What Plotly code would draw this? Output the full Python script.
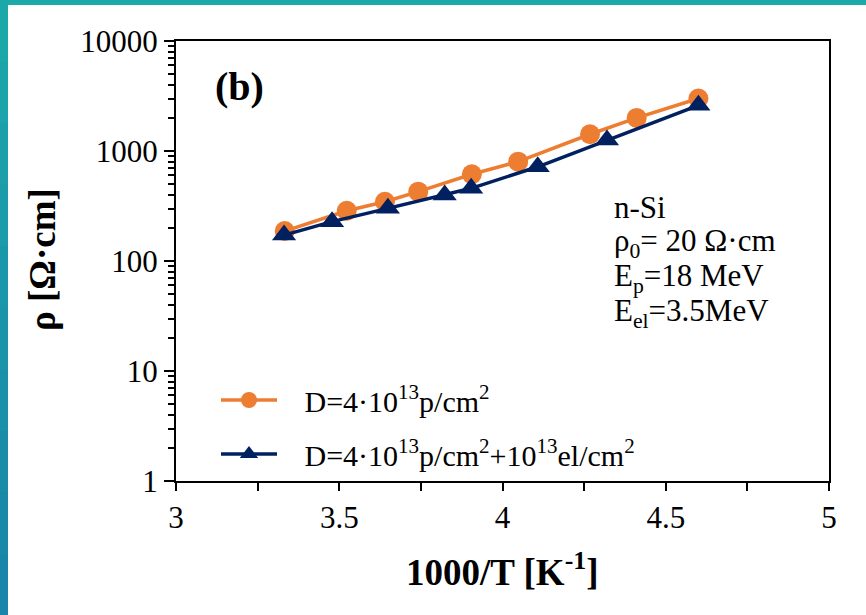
import plotly.graph_objects as go

# ---- data ----
x_p = [3.333, 3.523, 3.640, 3.742, 3.906, 4.048, 4.268, 4.411, 4.600]
rho_p = [187, 286, 346, 427, 614, 800, 1420, 2000, 3000]
x_pe = [3.331, 3.478, 3.649, 3.823, 3.904, 4.108, 4.320, 4.600]
rho_pe = [172, 228, 301, 398, 458, 719, 1260, 2600]

name_p = "D=4·10<sup>13</sup>p/cm<sup>2</sup>"
name_pe = "D=4·10<sup>13</sup>p/cm<sup>2</sup>+10<sup>13</sup>el/cm<sup>2</sup>"

x_ticks = [3, 3.5, 4, 4.5, 5]
x_ticklabels = ["3", "3.5", "4", "4.5", "5"]
y_ticks = [1, 10, 100, 1000, 10000]
y_ticklabels = ["1", "10", "100", "1000", "10000"]

info_lines = ["n-Si", "ρ<sub>0</sub>= 20 Ω·cm", "E<sub>p</sub>=18 MeV", "E<sub>el</sub>=3.5MeV"]

ORANGE = "#ED7D31"
NAVY = "#002060"
FONT = "Liberation Serif, Times New Roman, serif"

W, H = 866, 615
L, R, T, B = 176, 37, 41, 134
PW, PH = W - L - R, H - T - B


def px(xpix):
    return (xpix - L) / PW


def py(ypix):
    return (H - B - ypix) / PH


GAP = "&nbsp;&nbsp;&nbsp;"

fig = go.Figure()
fig.add_trace(go.Scatter(
    x=x_p, y=rho_p, mode="lines+markers", name=GAP + name_p,
    line=dict(color=ORANGE, width=3.5),
    marker=dict(symbol="circle", size=20, color=ORANGE),
    legendgroup="a",
))
fig.add_trace(go.Scatter(
    x=x_pe, y=rho_pe, mode="lines+markers", name=GAP + name_pe,
    line=dict(color=NAVY, width=3.5),
    marker=dict(symbol="triangle-up", size=21, color=NAVY),
    legendgroup="b",
))

axis_common = dict(
    showline=True, linecolor="black", linewidth=2, mirror=True,
    showgrid=False, zeroline=False,
    ticks="outside", tickcolor="black", tickwidth=2,
    tickfont=dict(family=FONT, size=31, color="black"),
)

fig.update_xaxes(
    range=[3, 5], tickvals=x_ticks, ticktext=x_ticklabels, ticklen=8,
    minor=dict(dtick=0.25, ticks="outside", ticklen=8, tickcolor="black", tickwidth=2, showgrid=False),
    **axis_common,
)
fig.update_yaxes(
    type="log", range=[0, 4], tickvals=y_ticks, ticktext=y_ticklabels, ticklen=10,
    minor=dict(dtick="D1", ticks="outside", ticklen=6, tickcolor="black", tickwidth=2, showgrid=False),
    **axis_common,
)

annotations = [
    dict(text="<b>(b)</b>", x=px(239), y=py(86), xref="paper", yref="paper",
         xanchor="center", yanchor="middle",
         showarrow=False, font=dict(family=FONT, size=40, color="black")),
    dict(text="<b>ρ [Ω·cm]</b>", x=px(42), y=py(260), xref="paper", yref="paper",
         xanchor="center", yanchor="middle",
         showarrow=False, textangle=-90, font=dict(family=FONT, size=37, color="black")),
    dict(text="<b>1000/T [K<sup>-1</sup>]</b>", x=px(503), y=py(569), xref="paper", yref="paper",
         xanchor="center", yanchor="middle",
         showarrow=False, font=dict(family=FONT, size=37, color="black")),
]
line_y = [207, 243, 278, 313]
for txt, yy in zip(info_lines, line_y):
    annotations.append(dict(text=txt, x=px(612), y=py(yy), xref="paper", yref="paper",
                            xanchor="left", yanchor="middle", showarrow=False,
                            font=dict(family=FONT, size=31, color="black")))

# slide background border (teal strips)
shapes = [dict(type="rect", xref="paper", yref="paper", x0=px(0), x1=px(W), y0=py(5), y1=py(0),
               fillcolor="#1CA9AA", line=dict(width=0), layer="below")]
top_col = (0x1C, 0xAA, 0xAA)
bot_col = (0x19, 0x84, 0xA8)
nseg = 10
for i in range(nseg):
    t = (i + 0.5) / nseg
    c = tuple(int(a + (b - a) * t) for a, b in zip(top_col, bot_col))
    shapes.append(dict(type="rect", xref="paper", yref="paper", x0=px(0), x1=px(8),
                       y0=py(min(H, H * (i + 1) / nseg + 2)), y1=py(H * i / nseg),
                       fillcolor="#%02X%02X%02X" % c, line=dict(width=0), layer="below"))

fig.update_layout(
    width=W, height=H,
    margin=dict(l=L, r=R, t=T, b=B),
    paper_bgcolor="white", plot_bgcolor="white",
    font=dict(family=FONT, color="black"),
    showlegend=True,
    legend=dict(x=px(216), y=py(374), xanchor="left", yanchor="top",
                bgcolor="rgba(0,0,0,0)", font=dict(family=FONT, size=30, color="black"),
                tracegroupgap=12, itemwidth=56, traceorder="grouped"),
    annotations=annotations,
    shapes=shapes,
)

fig.write_html("out.html")
